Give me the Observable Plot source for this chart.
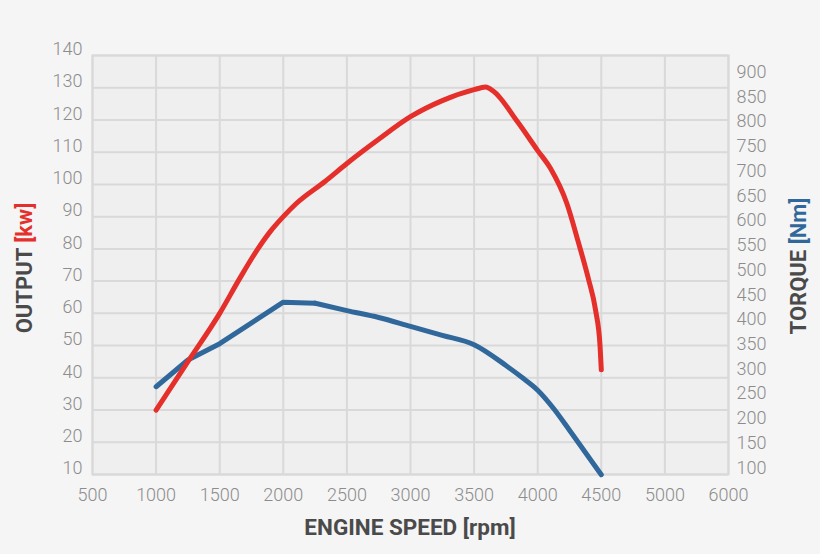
<!DOCTYPE html>
<html>
<head>
<meta charset="utf-8">
<script src="https://cdn.jsdelivr.net/npm/d3@7"></script>
<script src="https://cdn.jsdelivr.net/npm/@observablehq/plot@0.6"></script>
<style>
  html, body { margin: 0; padding: 0; background: #f5f5f5; }
  #chart svg { display: block; }
</style>
</head>
<body>
<div id="chart"></div>
<script>
// Engine speed tick positions and their printed labels (last gridline is labelled 6000)
const xTicks = [500, 1000, 1500, 2000, 2500, 3000, 3500, 4000, 4500, 5000, 5500];
const xTickLabels = ["500", "1000", "1500", "2000", "2500", "3000", "3500", "4000", "4500", "5000", "6000"];
// Output axis (kW)
const outputTicks = [10, 20, 30, 40, 50, 60, 70, 80, 90, 100, 110, 120, 130, 140];
// Torque axis (Nm)
const torqueTicks = [100, 150, 200, 250, 300, 350, 400, 450, 500, 550, 600, 650, 700, 750, 800, 850, 900];

// Output curve (kW vs rpm)
const powerRpm = [1000, 1250, 1500, 1660, 1800, 1900, 2000, 2100, 2330, 2500, 2750, 3000, 3250, 3500, 3590, 3650, 3840, 4000, 4100, 4230, 4320, 4400, 4455, 4490, 4500];
const powerKw  = [30,   45,   60,   71,   80,   85.5, 90,   94,   101,  106.5, 114, 121,  126,  129.4, 130.2, 129, 119.5, 110.5, 105, 94,   82,   70.5, 61,   50,   42.5];

// Torque curve (Nm vs rpm)
const torqueRpm = [1000, 1250, 1500, 2000, 2250, 2500, 2750, 3000, 3250, 3500, 3750, 3875, 4000, 4125, 4250, 4375, 4500];
const torqueNm  = [264,  318,  351,  435,  433,  418,  404,  386,  368,  349,  307,  283,  257,  220,  176,  131,  86];

// The torque axis is printed beside the output grid: 100 Nm ~ 12.08 kW line, 900 Nm ~ 134.8 kW line
const torqueToOutput = d3.scaleLinear([100, 900], [12.08, 134.8]);

const power = powerRpm.map((r, i) => ({rpm: r, value: powerKw[i]}));
const torque = torqueRpm.map((r, i) => ({rpm: r, value: torqueToOutput(torqueNm[i])}));
const torqueRise = torque.filter(d => d.rpm <= 2250);
const torqueFall = torque.filter(d => d.rpm >= 2250);

const xLabel = new Map(xTicks.map((t, i) => [t, xTickLabels[i]]));
const torquePos = torqueTicks.map(t => torqueToOutput(t));
const torqueLabel = new Map(torquePos.map((p, i) => [p, String(torqueTicks[i])]));

const gridColor = "#d9d9d9";
const labelColor = "#8c8c8c";
const red = "#e52f2b";
const blue = "#31689b";

const lineStyle = {x: "rpm", y: "value", strokeWidth: 5, strokeLinecap: "round", strokeLinejoin: "round"};

const chart = Plot.plot({
  width: 820,
  height: 554,
  marginLeft: 92,
  marginRight: 92,
  marginTop: 55,
  marginBottom: 80,
  style: {background: "#f5f5f5", fontFamily: "Roboto, sans-serif", overflow: "visible"},
  x: {domain: [500, 5500]},
  y: {domain: [10, 140]},
  marks: [
    Plot.frame({fill: "#efefef", stroke: null}),
    Plot.gridX(xTicks, {stroke: gridColor, strokeOpacity: 1, strokeWidth: 2}),
    Plot.gridY(outputTicks, {stroke: gridColor, strokeOpacity: 1, strokeWidth: 2}),
    Plot.frame({stroke: gridColor, strokeWidth: 2}),
    Plot.axisX(xTicks, {tickSize: 0, tickPadding: 14, fontSize: 18, fill: labelColor, fontWeight: 300,
      tickFormat: d => xLabel.get(d), label: null}),
    Plot.axisY(outputTicks, {anchor: "left", tickSize: 0, tickPadding: 10, fontSize: 18, fill: labelColor, fontWeight: 300,
      dy: -6, label: null}),
    Plot.axisY(torquePos, {anchor: "right", tickSize: 0, tickPadding: 8, fontSize: 18, fill: labelColor, fontWeight: 300,
      tickFormat: d => torqueLabel.get(d), label: null}),
    Plot.line(torqueRise, {...lineStyle, stroke: blue, curve: "linear"}),
    Plot.line(torqueFall, {...lineStyle, stroke: blue, curve: "monotone-x"}),
    Plot.line(power, {...lineStyle, stroke: red, curve: "monotone-x"})
  ]
});

document.getElementById("chart").appendChild(chart);

// Axis titles with two-coloured text
const svg = d3.select(chart);
const titleColor = "#4a4a4a";

svg.append("text")
  .attr("x", 410).attr("y", 535)
  .attr("text-anchor", "middle")
  .attr("font-family", "Roboto, sans-serif")
  .attr("font-weight", "bold")
  .attr("font-size", 22.5)
  .attr("fill", titleColor)
  .text("ENGINE SPEED [rpm]");

const lt = svg.append("text")
  .attr("transform", "translate(32,268) rotate(-90)")
  .attr("text-anchor", "middle")
  .attr("font-family", "Roboto, sans-serif")
  .attr("font-weight", "bold")
  .attr("font-size", 22)
  .attr("fill", titleColor);
lt.append("tspan").text("OUTPUT ");
lt.append("tspan").attr("fill", red).text("[kw]");

const rt = svg.append("text")
  .attr("transform", "translate(806,266) rotate(-90)")
  .attr("text-anchor", "middle")
  .attr("font-family", "Roboto, sans-serif")
  .attr("font-weight", "bold")
  .attr("font-size", 22)
  .attr("fill", titleColor);
rt.append("tspan").text("TORQUE ");
rt.append("tspan").attr("fill", blue).text("[Nm]");
</script>
</body>
</html>
